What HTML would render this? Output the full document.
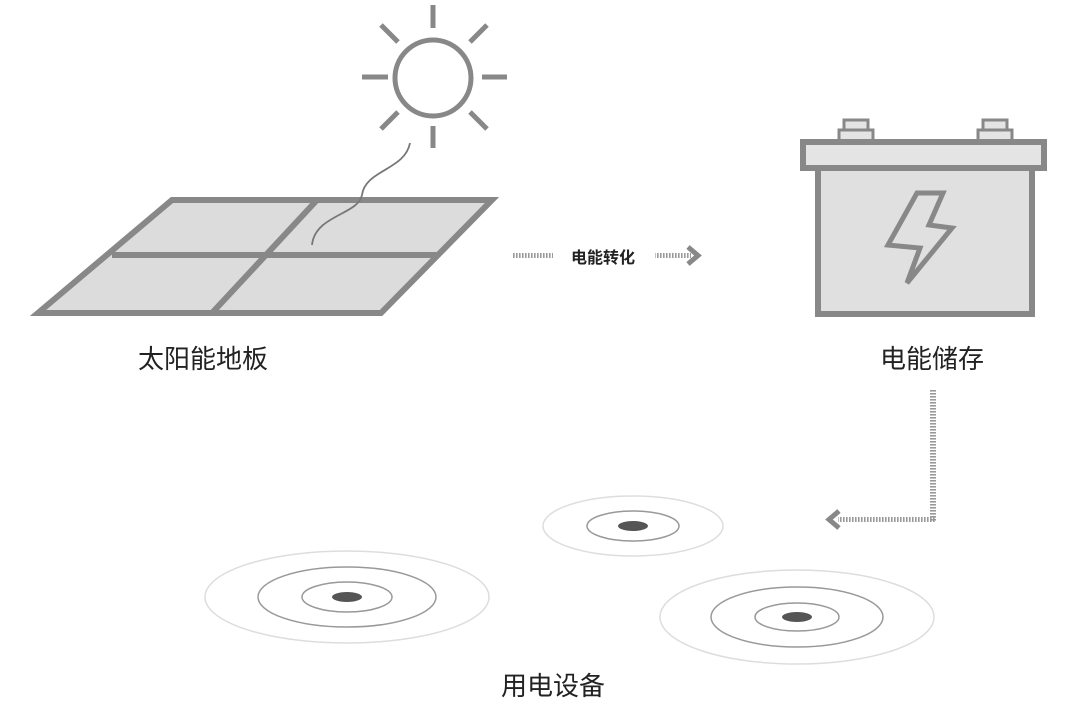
<!DOCTYPE html>
<html><head><meta charset="utf-8"><style>
html,body{margin:0;padding:0;background:#fff;}
svg{display:block;}
text{font-family:"Liberation Sans","Noto Sans CJK SC",sans-serif;fill:#222;}
</style></head><body>
<svg width="1080" height="710" viewBox="0 0 1080 710" xmlns="http://www.w3.org/2000/svg">
<defs>
<pattern id="hatch" width="3" height="3" patternUnits="userSpaceOnUse"><rect width="1.6" height="3" fill="#999"/></pattern>
<pattern id="hatchv" width="3" height="3" patternUnits="userSpaceOnUse"><rect width="3" height="1.6" fill="#999"/></pattern>
</defs>
<g stroke="#888" stroke-width="5" fill="none" stroke-linecap="butt">
<circle cx="433" cy="78" r="38"/>
<line x1="433" y1="5" x2="433" y2="28"/>
<line x1="433" y1="126" x2="433" y2="148"/>
<line x1="362" y1="77" x2="388" y2="77"/>
<line x1="482" y1="77" x2="507" y2="77"/>
<line x1="381" y1="25" x2="398" y2="42"/>
<line x1="487" y1="25" x2="470" y2="42"/>
<line x1="381" y1="129" x2="398" y2="112"/>
<line x1="487" y1="129" x2="470" y2="112"/>
</g>
<polygon points="172,200 492,200 381,313 38,313" fill="#dcdcdc" stroke="#888" stroke-width="6" stroke-linejoin="miter"/>
<line x1="112" y1="255" x2="437" y2="255" stroke="#888" stroke-width="6"/>
<line x1="317" y1="200" x2="212" y2="313" stroke="#888" stroke-width="6"/>
<path d="M410,143 C405,170 365,170 362,195 C358,215 315,215 312,245" fill="none" stroke="#777" stroke-width="1.8"/>
<text x="203" y="368" font-size="26" text-anchor="middle">太阳能地板</text>
<rect x="513" y="253" width="40" height="5" fill="url(#hatch)"/>
<text x="603" y="263" font-size="16" font-weight="bold" text-anchor="middle">电能转化</text>
<rect x="655" y="253" width="36" height="5" fill="url(#hatch)"/>
<path d="M688,247 L698,255.5 L688,264" fill="none" stroke="#888" stroke-width="5"/>
<g stroke="#888" stroke-width="3" fill="#e4e4e4">
<rect x="844" y="120" width="24" height="11"/>
<rect x="839" y="130" width="34" height="11"/>
<rect x="983" y="120" width="24" height="11"/>
<rect x="978" y="130" width="34" height="11"/>
</g>
<rect x="818" y="168" width="214" height="146" fill="#e0e0e0" stroke="#888" stroke-width="6"/>
<rect x="803" y="142" width="241" height="26" fill="#e4e4e4" stroke="#888" stroke-width="6"/>
<path d="M917,193 L943,193 L929,225 L952,228 L907,283 L920,248 L888,245 Z" fill="none" stroke="#888" stroke-width="5" stroke-linejoin="miter"/>
<text x="932" y="368" font-size="26" text-anchor="middle">电能储存</text>
<rect x="930" y="390" width="6" height="132" fill="url(#hatchv)"/>
<rect x="838" y="517" width="98" height="5" fill="url(#hatch)"/>
<path d="M839,511 L829,519.5 L839,528" fill="none" stroke="#888" stroke-width="5"/>
<g fill="none">
<ellipse cx="347" cy="597" rx="142" ry="46" stroke="#ddd" stroke-width="1.5"/>
<ellipse cx="347" cy="597" rx="89" ry="30" stroke="#999" stroke-width="1.5"/>
<ellipse cx="347" cy="597" rx="45" ry="15" stroke="#999" stroke-width="1.5"/>
<ellipse cx="633" cy="526" rx="90" ry="30" stroke="#ddd" stroke-width="1.5"/>
<ellipse cx="633" cy="526" rx="46" ry="15" stroke="#999" stroke-width="1.5"/>
<ellipse cx="797" cy="617" rx="137" ry="47" stroke="#ddd" stroke-width="1.5"/>
<ellipse cx="797" cy="617" rx="86" ry="30" stroke="#999" stroke-width="1.5"/>
<ellipse cx="797" cy="617" rx="42" ry="14" stroke="#999" stroke-width="1.5"/>
</g>
<ellipse cx="347" cy="597" rx="15" ry="5" fill="#555"/>
<ellipse cx="633" cy="526" rx="15" ry="5" fill="#555"/>
<ellipse cx="797" cy="617" rx="15" ry="5" fill="#555"/>
<text x="553" y="695" font-size="26" text-anchor="middle">用电设备</text>
</svg>
</body></html>
